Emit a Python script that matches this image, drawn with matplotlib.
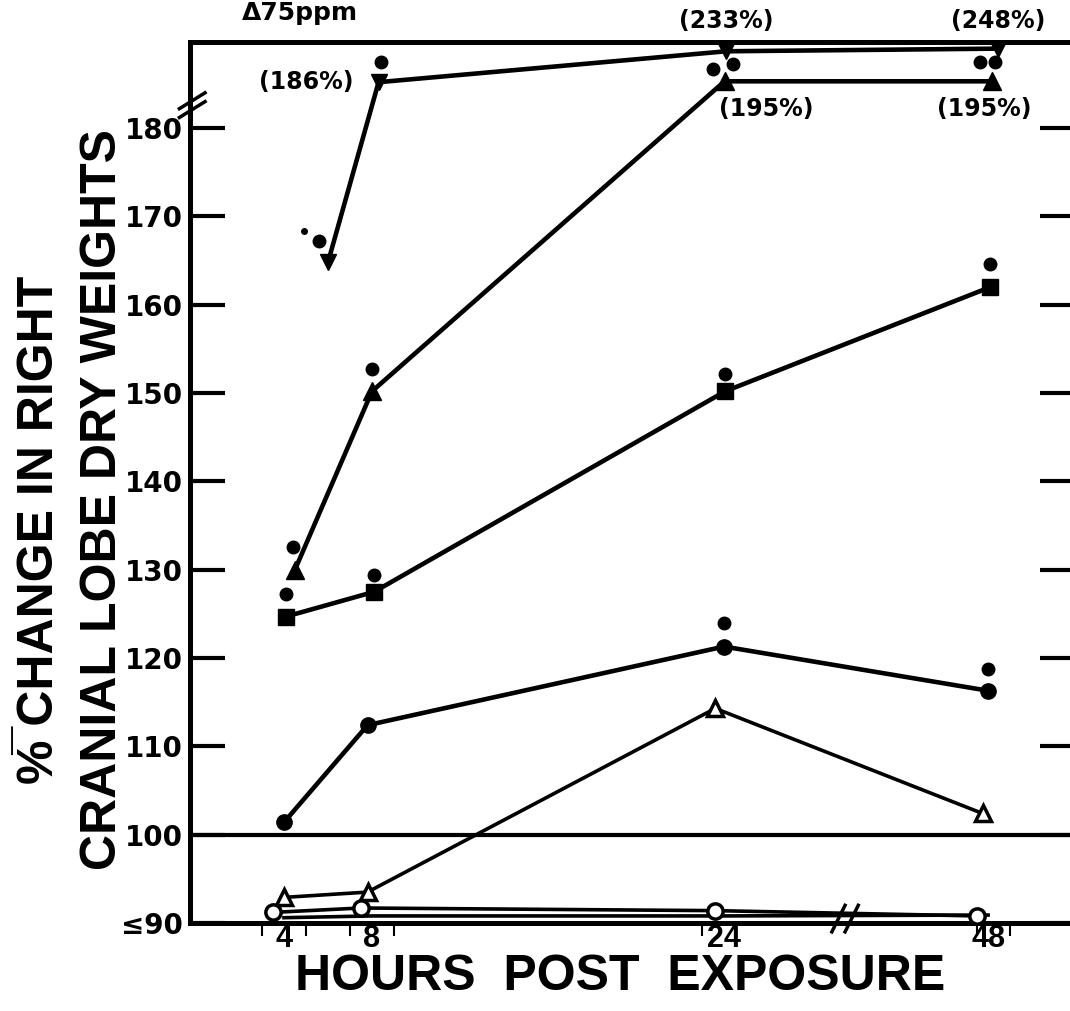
import numpy as np
import matplotlib.pyplot as plt
import matplotlib.transforms as mtransforms

NARROW = ['Liberation Sans', 'DejaVu Sans']
WIDE = ['DejaVu Sans']

# hours post exposure and % change (values above 180 sit on the broken part of the axis)
a_hours = [6, 8.3, 24.2, 48.9]
a_vals = [164.8, 185.2, 188.7, 189.0]
a_text = [None, '(186%)', '(233%)', '(248%)']

b_hours = [4.5, 8, 24.05, 48.4]
b_vals = [130.0, 150.2, 185.3, 185.3]
b_text = [None, None, '(195%)', '(195%)']

c_hours = [4.1, 8.1, 24.1, 48.2]
c_vals = [124.7, 127.5, 150.2, 162.0]

d_hours = [4, 7.8, 24, 48]
d_vals = [101.4, 112.4, 121.3, 116.3]

e_hours = [4, 7.8, 23.6, 47.5]
e_vals = [92.9, 93.5, 114.3, 102.4]

f_hours = [3.5, 7.5, 23.6, 47.0]
f_vals = [91.2, 91.7, 91.4, 90.8]

g_hours = [4, 8, 24, 48]
g_vals = [90.6, 90.8, 90.8, 90.9]

# upper SE dots
se_hours = [5.6, 8.4, 4.4, 8.0, 23.5, 24.8, 47.3, 48.6, 4.1, 8.1, 24.1, 48.2, 24.0, 48.0]
se_vals = [167.2, 187.5, 132.6, 152.7, 186.7, 187.3, 187.5, 187.5, 127.2, 129.4, 152.2, 164.6, 124.0, 118.8]

hour_ticks = [4, 8, 24, 48]
hour_labels = ['4', '8', '24', '48']
minor_hours = [3, 5, 7, 9, 23, 47, 50]
y_ticks = [90, 100, 110, 120, 130, 140, 150, 160, 170, 180]
y_labels = ['≤90', '100', '110', '120', '130', '140', '150', '160', '170', '180']


def xpos(h):
    # x axis is broken after 24 h: the 24-48 span is drawn at half scale
    h = np.asarray(h, dtype=float)
    return np.where(h <= 24, h, 24 + (h - 24) / 2)


fig = plt.figure(figsize=(10.7, 10.11), dpi=100)
ax = fig.add_axes([190 / 1070, 88 / 1011, 885 / 1070, 881 / 1011])
ax.set_xlim(-0.27, 39.95)
ax.set_ylim(90, 189.75)

lw = 3.3
ax.plot(xpos(a_hours), a_vals, color='k', lw=lw, marker='v', ms=12, zorder=3)
ax.plot(xpos(b_hours), b_vals, color='k', lw=lw, marker='^', ms=13, zorder=3)
ax.plot(xpos(c_hours), c_vals, color='k', lw=lw, marker='s', ms=11, zorder=3)
ax.plot(xpos(d_hours), d_vals, color='k', lw=lw, marker='o', ms=11, zorder=3)
ax.plot(xpos(e_hours), e_vals, color='k', lw=2.6, marker='^', ms=11, mfc='white',
        mec='k', mew=2.5, zorder=3)
ax.plot(xpos(g_hours), g_vals, color='k', lw=2.6, zorder=3)
ax.plot(xpos(f_hours), f_vals, color='k', lw=2.6, marker='o', ms=11, mfc='white',
        mec='k', mew=2.5, zorder=4)
ax.plot(xpos(se_hours), se_vals, 'o', color='k', ms=9, zorder=3)
ax.plot(xpos([4.9]), [168.3], 'o', color='k', ms=4)

ax.axhline(100, color='k', lw=3)

# labels of the off-scale values
lab = dict(ha='center', va='center', fontsize=17, fontweight='bold', family=WIDE,
           textcoords='offset points', annotation_clip=False)
for h, t in zip(a_hours, a_text):
    if t is None:
        continue
    if h < 10:
        ax.annotate(t, (xpos(h), 185.2), xytext=(-52, 0), **lab)
    else:
        ax.annotate(t, (xpos(h), 189.0), xytext=(0, 20), **lab)
for h, t in zip(b_hours, b_text):
    if t is None:
        continue
    dx = 30 if h < 30 else -6
    ax.annotate(t, (xpos(h), 185.3), xytext=(dx, -20), **lab)

# axes frame
for side in ['left', 'top', 'bottom']:
    ax.spines[side].set_linewidth(3.6)
ax.spines['right'].set_visible(False)

ax.set_yticks(y_ticks)
ax.set_yticklabels(y_labels, family=WIDE, fontweight='bold', fontsize=20)
ax.tick_params(axis='y', direction='in', length=25, width=3, pad=5, left=True, right=True)

ax.set_xticks(xpos(hour_ticks))
ax.set_xticklabels(hour_labels, family=NARROW, fontweight='bold', fontsize=22)
ax.set_xticks(xpos(minor_hours), minor=True)
ax.tick_params(axis='x', which='major', length=0, pad=1)
ax.tick_params(axis='x', which='minor', direction='out', length=9, width=1.5)

# axis breaks
trans = mtransforms.blended_transform_factory(ax.transAxes, ax.transData)
for y0 in [181.2, 182.2]:
    ax.plot([-0.012, 0.017], [y0, y0 + 1.8], color='k', lw=2.5, transform=trans, clip_on=False)
for d in [-0.3, 0.3]:
    ax.plot([29.2 + d, 29.8 + d], [89.0, 92.0], color='k', lw=2.5, clip_on=False, zorder=5)

fig.text(40 / 1070, 1 - 530 / 1011, '%\u0305 CHANGE IN RIGHT', rotation=90, ha='center',
         va='center', fontsize=36, fontweight='bold', family=NARROW)
fig.text(103 / 1070, 1 - 500 / 1011, 'CRANIAL LOBE DRY WEIGHTS', rotation=90, ha='center',
         va='center', fontsize=36, fontweight='bold', family=NARROW)
fig.text(620 / 1070, 1 - 977 / 1011, 'HOURS  POST  EXPOSURE', ha='center', va='center',
         fontsize=36, fontweight='bold', family=NARROW)
fig.text(300 / 1070, 1 - 20 / 1011, '\u039475ppm', ha='center', va='baseline',
         fontsize=18, fontweight='bold', family=WIDE)

fig.savefig('out.png', dpi=100)
